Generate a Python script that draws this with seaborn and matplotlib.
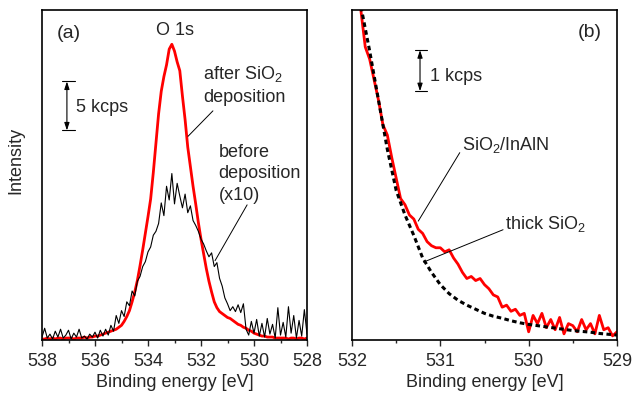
import numpy as np
import pandas as pd
import matplotlib
matplotlib.use("Agg")
import matplotlib.pyplot as plt
import seaborn as sns

# ---- panel (a): O 1s spectra, intensity in kcps ----
energy_a = np.round(np.arange(538.0, 527.95, -0.1), 2)

after_sio2 = [
    0.0, 0.0, 0.1, 0.0, 0.1, 0.0, 0.1, 0.1, 0.0, 0.1,
    0.1, 0.1, 0.0, 0.1, 0.1, 0.1, 0.2, 0.1, 0.2, 0.2,
    0.3, 0.3, 0.4, 0.5, 0.6, 0.7, 0.8, 0.9, 1.0, 1.2,
    1.4, 1.8, 2.3, 2.9, 3.8, 4.8, 6.0, 7.5, 9.1, 10.8,
    12.5, 14.3, 17.0, 20.0, 23.0, 25.3, 26.8, 28.0, 29.6, 30.1,
    29.4, 28.3, 27.4, 24.8, 22.4, 19.6, 17.6, 15.6, 13.8, 11.9,
    10.2, 8.7, 7.2, 5.9, 4.8, 3.8, 3.2, 2.8, 2.6, 2.4,
    2.2, 2.1, 1.9, 1.7, 1.5, 1.4, 1.2, 1.1, 0.9, 0.8,
    0.6, 0.5, 0.4, 0.3, 0.3, 0.2, 0.2, 0.2, 0.1, 0.1,
    0.1, 0.1, 0.1, 0.0, 0.1, 0.1, 0.0, 0.1, 0.1, 0.0,
    0.1,
]

before_x10 = [
    0.2, 1.1, 0.1, 0.5, 0.0, 0.8, 0.2, 1.0, 0.1, 0.4,
    0.9, 0.0, 0.6, 0.2, 1.0, 0.1, 0.3, 0.0, 0.5, 0.2,
    0.7, 0.1, 0.9, 0.3, 1.0, 0.4, 1.4, 0.8, 2.4, 1.6,
    2.9, 2.3, 3.8, 3.4, 4.9, 4.4, 5.9, 6.4, 7.4, 7.9,
    8.9, 9.4, 10.6, 11.0, 11.8, 13.9, 12.6, 15.6, 14.2, 16.9,
    13.8, 15.9, 14.6, 13.4, 14.8, 12.9, 13.6, 12.1, 11.6, 11.0,
    10.2, 9.7, 9.0, 8.4, 8.8, 7.4, 7.8, 6.2, 5.4, 4.2,
    3.6, 2.9, 3.3, 2.8, 3.5, 2.7, 3.6, 1.0, 0.4, 1.8,
    0.6, 2.0, 0.3, 1.6, 0.2, 2.1, 0.5, 1.5, 0.1, 3.2,
    0.4, 1.7, 0.2, 3.3, 0.6, 2.4, 0.1, 1.9, 0.3, 3.0,
    0.5,
]

# ---- panel (b): valence-band edge region, intensity in kcps ----
energy_thick = np.round(np.arange(532.0, 528.95, -0.1), 2)
thick_sio2 = [
    9.5, 8.1, 7.0, 5.8, 4.6, 3.6, 3.0, 2.5, 1.95, 1.6,
    1.3, 1.08, 0.92, 0.8, 0.7, 0.6, 0.53, 0.48, 0.42, 0.37,
    0.33, 0.3, 0.27, 0.24, 0.21, 0.18, 0.16, 0.14, 0.11, 0.09,
    0.07,
]

energy_inaln = np.round(np.arange(532.0, 528.975, -0.05), 2)
sio2_inaln = [
    9.6, 8.9, 8.0, 7.1, 6.8, 6.3, 5.8, 5.2, 4.95, 4.4,
    3.9, 3.4, 3.25, 3.0, 2.9, 2.65, 2.55, 2.35, 2.25, 2.2,
    2.2, 2.1, 2.15, 1.95, 1.8, 1.6, 1.45, 1.5, 1.4, 1.45,
    1.3, 1.2, 1.05, 1.0, 0.75, 0.8, 0.65, 0.7, 0.55, 0.6,
    0.15, 0.55, 0.35, 0.6, 0.25, 0.45, 0.2, 0.5, 0.1, 0.35,
    0.3, 0.15, 0.45, 0.2, 0.35, 0.1, 0.55, 0.2, 0.25, 0.05,
    0.15,
]

df_a = pd.DataFrame({"E": energy_a, "after": after_sio2, "before": before_x10})
df_thick = pd.DataFrame({"E": energy_thick, "I": thick_sio2})
df_inaln = pd.DataFrame({"E": energy_inaln, "I": sio2_inaln})

sns.set_style("ticks")
plt.rcParams["font.family"] = ["Liberation Sans", "DejaVu Sans"]
plt.rcParams["mathtext.fontset"] = "custom"
plt.rcParams["mathtext.rm"] = "Liberation Sans"
plt.rcParams["mathtext.it"] = "Liberation Sans:italic"

FS = 13
fig = plt.figure(figsize=(6.42, 3.96), dpi=100)
ax1 = fig.add_axes([42 / 642, 56 / 396, 265 / 642, 330 / 396])
ax2 = fig.add_axes([352 / 642, 56 / 396, 265 / 642, 330 / 396])

# panel (a)
sns.lineplot(data=df_a, x="E", y="after", ax=ax1, color="#ff0000", lw=2.0, sort=False)
sns.lineplot(data=df_a, x="E", y="before", ax=ax1, color="black", lw=0.8, sort=False)
ax1.set_xlim(538, 528)
ax1.set_ylim(-0.1, 33.6)
ax1.set_xticks(np.arange(538, 527, -2))
ax1.set_xticks(np.arange(538, 527, -1), minor=True)

# panel (b)
sns.lineplot(data=df_inaln, x="E", y="I", ax=ax2, color="#ff0000", lw=2.0, sort=False)
sns.lineplot(data=df_thick, x="E", y="I", ax=ax2, color="black", lw=2.2,
             linestyle=(0, (1.5, 1.1)), sort=False)
ax2.set_xlim(532, 529)
ax2.set_ylim(-0.05, 8.0)
ax2.set_xticks([532, 531, 530, 529])
ax2.set_xticks(np.arange(532, 528.9, -0.5), minor=True)

for ax in (ax1, ax2):
    ax.set_yticks([])
    ax.set_ylabel("")
    ax.set_xlabel("Binding energy [eV]", fontsize=FS, labelpad=3)
    ax.tick_params(axis="x", which="major", direction="out", length=4, width=1.0,
                   labelsize=FS, pad=5)
    ax.tick_params(axis="x", which="minor", direction="out", length=2.5, width=1.0)
    for s in ax.spines.values():
        s.set_visible(True)
        s.set_linewidth(1.2)
        s.set_color("black")

ax1.set_ylabel("Intensity", fontsize=FS)
ax1.yaxis.set_label_coords(-0.065, 0.545)

bar = dict(arrowstyle="<|-|>,head_length=0.45,head_width=0.15", color="black", lw=0.8,
           shrinkA=0, shrinkB=0)

# annotations panel (a)
ax1.text(537.45, 30.7, "(a)", fontsize=FS + 1, va="baseline")
ax1.text(532.98, 31.0, "O 1s", fontsize=FS, ha="center", va="baseline")
ax1.text(531.92, 26.6, "after SiO$_2$", fontsize=FS, va="baseline")
ax1.text(531.92, 24.2, "deposition", fontsize=FS, va="baseline")
ax1.plot([532.49, 531.55], [20.7, 23.3], color="black", lw=0.7)
ax1.text(531.32, 18.6, "before", fontsize=FS, va="baseline")
ax1.text(531.35, 16.4, "deposition", fontsize=FS, va="baseline")
ax1.text(531.32, 14.2, "(x10)", fontsize=FS, va="baseline")
ax1.plot([531.47, 530.26], [8.0, 13.7], color="black", lw=0.7)
ax1.annotate("", xy=(537.06, 26.3), xytext=(537.06, 21.3), arrowprops=bar)
ax1.plot([537.25, 536.75], [26.3, 26.3], color="black", lw=0.8)
ax1.plot([537.25, 536.75], [21.3, 21.3], color="black", lw=0.8)
ax1.text(536.7, 23.2, "5 kcps", fontsize=FS, va="baseline")

# annotations panel (b)
ax2.text(529.17, 7.34, "(b)", fontsize=FS + 1, ha="right", va="baseline")
ax2.annotate("", xy=(531.23, 7.02), xytext=(531.23, 6.02), arrowprops=bar)
ax2.plot([531.29, 531.15], [7.02, 7.02], color="black", lw=0.8)
ax2.plot([531.29, 531.15], [6.02, 6.02], color="black", lw=0.8)
ax2.text(531.12, 6.27, "1 kcps", fontsize=FS, va="baseline")
ax2.text(530.76, 4.59, "SiO$_2$/InAlN", fontsize=FS, va="baseline")
ax2.plot([530.78, 531.25], [4.52, 2.85], color="black", lw=0.7)
ax2.text(530.27, 2.66, "thick SiO$_2$", fontsize=FS, va="baseline")
ax2.plot([530.29, 531.19], [2.64, 1.85], color="black", lw=0.7)

fig.savefig("out.png", dpi=100)
